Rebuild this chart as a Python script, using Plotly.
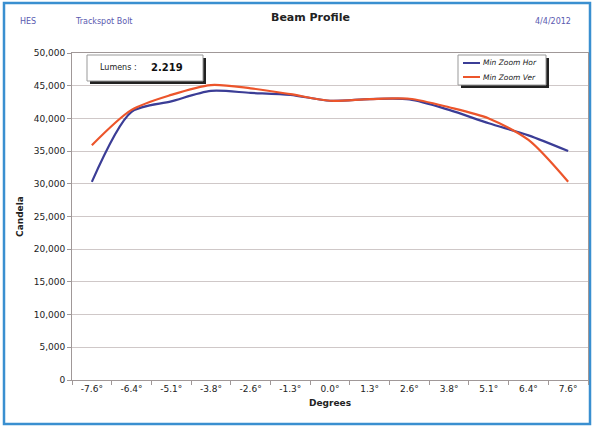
import plotly.graph_objects as go

degrees = ["-7.6°", "-6.4°", "-5.1°", "-3.8°", "-2.6°", "-1.3°", "0.0°",
           "1.3°", "2.6°", "3.8°", "5.1°", "6.4°", "7.6°"]
hor = [30300, 41000, 42600, 44200, 43900, 43600, 42700, 42950, 42900, 41300, 39250, 37400, 35000]
ver = [35900, 41300, 43600, 45100, 44600, 43700, 42700, 42950, 43000, 41700, 40000, 36700, 30300]
y_ticks = list(range(0, 50001, 5000))
series_names = ["Min Zoom Hor", "Min Zoom Ver"]
series_colors = ["#3b3d96", "#ec552b"]

L, R, T, B = 72, 588, 53, 380
W, H = 595, 427
def px(x):
    return (x - L) / (R - L)
def py(y):
    return (B - y) / (B - T)

FONT = "DejaVu Sans"
fig = go.Figure()
for name, vals, col in zip(series_names, [hor, ver], series_colors):
    fig.add_trace(go.Scatter(x=degrees, y=vals, mode="lines", name=name, showlegend=False,
                             line=dict(color=col, width=2.2, shape="spline", smoothing=0.8)))

shapes = []
# outer blue border
shapes.append(dict(type="rect", xref="paper", yref="paper",
                   x0=px(4), x1=px(590), y0=py(3), y1=py(424),
                   line=dict(color="#3a8fd0", width=2.5), fillcolor="rgba(0,0,0,0)", layer="below"))
# lumens box shadow + box
shapes.append(dict(type="rect", xref="paper", yref="paper",
                   x0=px(90), x1=px(206), y0=py(58), y1=py(84),
                   line=dict(width=0), fillcolor="#222222"))
shapes.append(dict(type="rect", xref="paper", yref="paper",
                   x0=px(87), x1=px(203), y0=py(55), y1=py(81),
                   line=dict(color="#999999", width=1), fillcolor="white"))
# legend shadow + box
shapes.append(dict(type="rect", xref="paper", yref="paper",
                   x0=px(461), x1=px(549), y0=py(58), y1=py(88),
                   line=dict(width=0), fillcolor="#222222"))
shapes.append(dict(type="rect", xref="paper", yref="paper",
                   x0=px(458), x1=px(546), y0=py(55), y1=py(85),
                   line=dict(color="#999999", width=1), fillcolor="white"))
ann = []
for i, (name, col) in enumerate(zip(series_names, series_colors)):
    yy = 63 + i * 14
    shapes.append(dict(type="line", xref="paper", yref="paper",
                       x0=px(463), x1=px(480), y0=py(yy), y1=py(yy),
                       line=dict(color=col, width=2)))
    ann.append(dict(text=f"<i>{name}</i>", x=px(481), y=py(yy), xanchor="left",
                    font=dict(size=7.5, color="#222222", family=FONT)))
fig.update_layout(shapes=shapes)

hdr = "#5a5ab0"
ann += [
    dict(text="HES", x=px(28), y=py(22), font=dict(size=8, color=hdr, family=FONT)),
    dict(text="Trackspot Bolt", x=px(104), y=py(22), font=dict(size=8, color=hdr, family=FONT)),
    dict(text="<b>Beam Profile</b>", x=px(310), y=py(17), font=dict(size=11, color="#222222", family=FONT)),
    dict(text="4/4/2012", x=px(553), y=py(22), font=dict(size=8, color=hdr, family=FONT)),
    dict(text="Lumens :", x=px(118), y=py(68), font=dict(size=8, color="#222222", family=FONT)),
    dict(text="<b>2.219</b>", x=px(167), y=py(68), font=dict(size=10, color="#111111", family=FONT)),
]
for a in ann:
    a.setdefault("xanchor", "center")
    a.update(xref="paper", yref="paper", showarrow=False, yanchor="middle")
fig.update_layout(annotations=ann)

fig.update_layout(
    width=W, height=H,
    margin=dict(l=L, r=W - R, t=T, b=H - B),
    paper_bgcolor="white", plot_bgcolor="white",
    font=dict(family=FONT, size=9, color="#222222"),
    showlegend=False,
    xaxis=dict(type="category", tickson="boundaries", ticks="outside", ticklen=4,
               tickcolor="#a09898", showline=True, linecolor="#a09898", linewidth=1,
               mirror=True, showgrid=False, tickfont=dict(size=9),
               title=dict(text="<b>Degrees</b>", font=dict(size=9), standoff=6),
               range=[-0.5, 12.5]),
    yaxis=dict(range=[0, 50000], tickvals=y_ticks, tickformat=",", ticks="outside",
               ticklen=4, tickcolor="#a09898", showline=True, linecolor="#a09898",
               mirror=True, gridcolor="#cfc8c8", gridwidth=1, tickfont=dict(size=9),
               title=dict(text="<b>Candela</b>", font=dict(size=9), standoff=8),
               zeroline=False),
)

fig.write_html("out.html", config={"displayModeBar": False},
               post_script="document.body.style.margin='0';document.body.style.overflow='hidden';")
